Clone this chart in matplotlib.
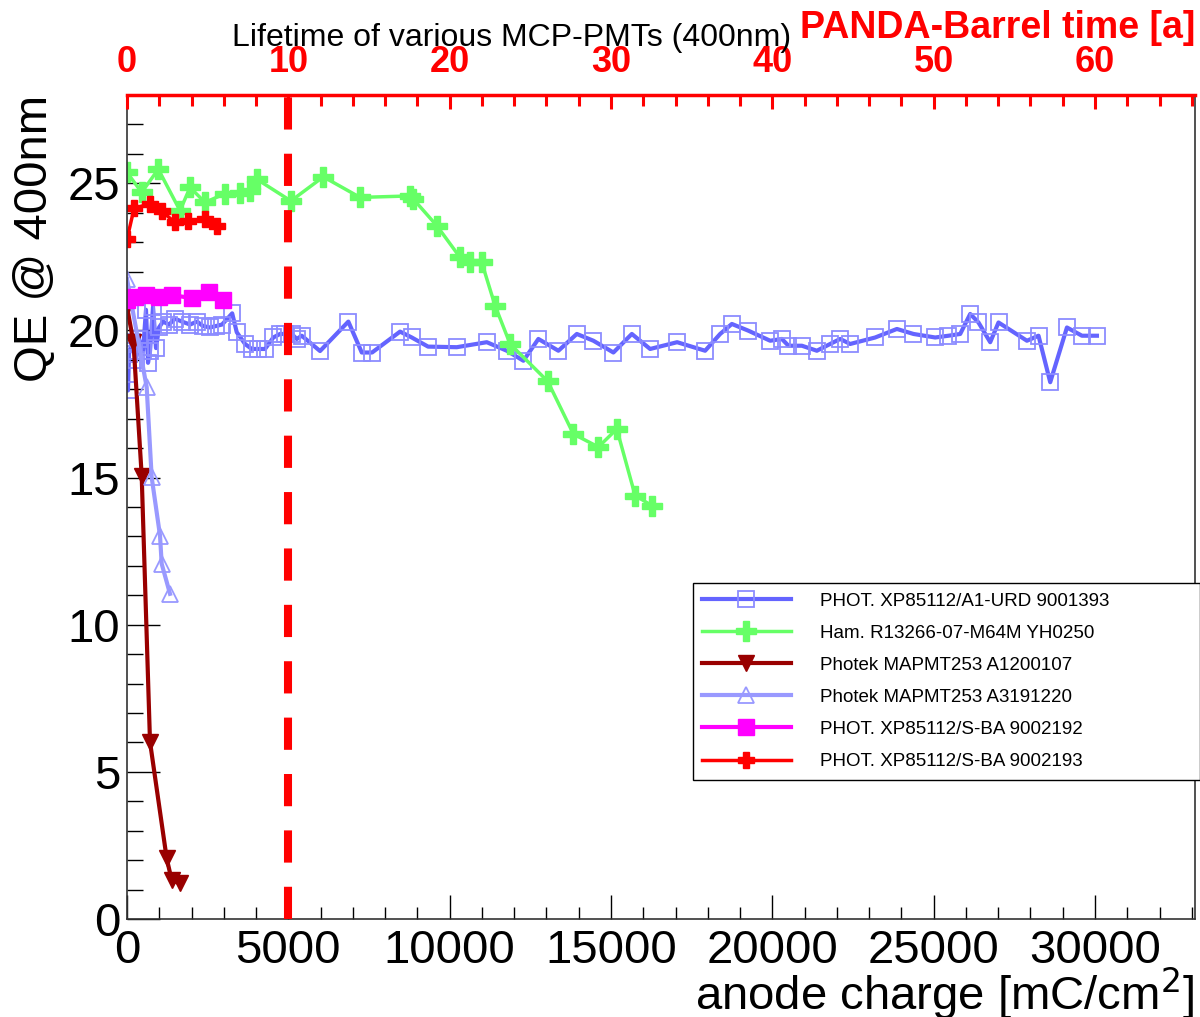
import matplotlib.pyplot as plt
from matplotlib.ticker import MultipleLocator

plt.rcParams["font.family"] = ["Liberation Sans", "DejaVu Sans"]

# anode charge [mC/cm^2] and QE @ 400nm [%]
urd_charge = [0, 30, 62, 155, 279, 372, 496, 589, 651, 713, 806, 899, 992, 1116, 1302,
              1488, 1705, 1953, 2170, 2356, 2573, 2759, 2945, 3260, 3401, 3658, 3866,
              4070, 4278, 4535, 4743, 4898, 5106, 5261, 5416, 5983, 6860, 7276, 7595,
              8463, 8826, 9331, 10221, 11151, 11771, 12285, 12750, 13370, 13941, 14455,
              15075, 15646, 16213, 17050, 17918, 18383, 18746, 19260, 19933, 20296,
              20500, 20916, 21381, 21793, 22103, 22413, 23188, 23861, 24375, 25048,
              25460, 25823, 26133, 26390, 26753, 27010, 27891, 28250, 28613, 29131,
              29596, 30061]
urd_qe = [19.3, 17.96, 19.2, 19.6, 19.0, 19.7, 19.3, 20.7, 18.9, 19.3, 20.8, 19.4, 20.1,
          20.3, 20.2, 20.4, 20.3, 20.2, 20.3, 20.15, 20.1, 20.15, 20.2, 20.58, 19.94,
          19.54, 19.37, 19.37, 19.37, 19.76, 19.88, 19.88, 19.88, 19.71, 19.82, 19.3,
          20.3, 19.25, 19.25, 19.96, 19.76, 19.45, 19.43, 19.6, 19.31, 18.97, 19.71,
          19.31, 19.88, 19.65, 19.25, 19.88, 19.37, 19.6, 19.31, 19.88, 20.22, 19.99,
          19.65, 19.71, 19.48, 19.48, 19.31, 19.54, 19.71, 19.54, 19.76, 20.05, 19.88,
          19.76, 19.82, 19.88, 20.56, 20.27, 19.6, 20.27, 19.65, 19.82, 18.24, 20.1,
          19.82, 19.82]

ham_charge = [0, 455, 970, 1643, 1953, 2418, 3038, 3503, 3813, 4021, 5080, 6085, 7223,
              8773, 8877, 9601, 10323, 10633, 10995, 11408, 11873, 13040, 13835, 14610,
              15180, 15748, 16265]
ham_qe = [25.37, 24.69, 25.48, 24.07, 24.86, 24.35, 24.65, 24.67, 24.75, 25.14, 24.4,
          25.22, 24.52, 24.57, 24.46, 23.56, 22.48, 22.31, 22.31, 20.84, 19.54, 18.27,
          16.48, 16.04, 16.65, 14.39, 14.05]

a120_charge = [0, 200, 455, 713, 1230, 1385, 1643]
a120_qe = [20.8, 19.6, 15.07, 6.02, 2.06, 1.32, 1.21]

a319_charge = [0, 610, 765, 1023, 1075, 1333]
a319_qe = [21.75, 18.07, 15.01, 13.03, 12.07, 11.05]

sba92_charge = [0, 250, 600, 1000, 1400, 2000, 2550, 2970]
sba92_qe = [21.05, 21.15, 21.2, 21.15, 21.2, 21.1, 21.3, 21.03]

sba93_charge = [0, 220, 713, 1075, 1488, 1900, 2418, 2780]
sba93_qe = [23.1, 24.15, 24.3, 24.05, 23.67, 23.72, 23.8, 23.56]

labels = [
    "PHOT. XP85112/A1-URD 9001393",
    "Ham. R13266-07-M64M YH0250",
    "Photek MAPMT253 A1200107",
    "Photek MAPMT253 A3191220",
    "PHOT. XP85112/S-BA 9002192",
    "PHOT. XP85112/S-BA 9002193",
]

X_MAX = 33100
Y_MAX = 28
CHARGE_PER_YEAR = 500
PANDA_LIMIT = 5000

W, H = 1200, 1017
fig = plt.figure(figsize=(W / 100, H / 100), dpi=100)
ax = fig.add_axes([127 / W, 1 - 919 / H, (1195 - 127) / W, (919 - 95) / H])

handles = []
handles += ax.plot(urd_charge, urd_qe, color="#6464ff", lw=3, marker="s", ms=12,
                   mfc="none", mec="#8c8cff", mew=1.3)
handles += ax.plot(ham_charge, ham_qe, color="#66ff66", lw=2.5, marker="P", ms=14,
                   mfc="#66ff66", mec="#66ff66")
handles += ax.plot(a120_charge, a120_qe, color="#990000", lw=3, marker="v", ms=12,
                   mfc="#990000", mec="#990000")
handles += ax.plot(a319_charge, a319_qe, color="#9999ff", lw=3, marker="^", ms=12,
                   mfc="none", mec="#9999ff", mew=1.3)
handles += ax.plot(sba92_charge, sba92_qe, color="#ff00ff", lw=3, marker="s", ms=12,
                   mfc="#ff00ff", mec="#ff00ff")
handles += ax.plot(sba93_charge, sba93_qe, color="#ff0000", lw=2.5, marker="P", ms=11,
                   mfc="#ff0000", mec="#ff0000")

ax.axvline(PANDA_LIMIT, color="#ff0000", lw=5.8, dashes=(4, 3), zorder=5)

ax.set_xlim(0, X_MAX)
ax.set_ylim(0, Y_MAX)
ax.xaxis.set_major_locator(MultipleLocator(5000))
ax.xaxis.set_minor_locator(MultipleLocator(1000))
ax.yaxis.set_major_locator(MultipleLocator(5))
ax.yaxis.set_minor_locator(MultipleLocator(1))
ax.tick_params(axis="x", which="major", direction="in", length=17, width=1, pad=7,
               labelsize=34, top=False)
ax.tick_params(axis="x", which="minor", direction="in", length=8.5, width=1, top=False)
ax.tick_params(axis="y", which="major", direction="in", length=24, width=1, pad=5,
               labelsize=34, right=False)
ax.tick_params(axis="y", which="minor", direction="in", length=11.5, width=1, right=False)
ax.spines["top"].set_visible(False)
for side in ("left", "bottom", "right"):
    ax.spines[side].set_linewidth(1.2)
    ax.spines[side].set_color("#333333")

# PANDA-Barrel time axis on top
ax2 = ax.twiny()
ax2.set_xlim(0, X_MAX / CHARGE_PER_YEAR)
ax2.xaxis.set_major_locator(MultipleLocator(10))
ax2.xaxis.set_minor_locator(MultipleLocator(2))
ax2.tick_params(axis="x", which="major", direction="in", length=10, width=2.2,
                colors="#ff0000", labelsize=26, pad=11)
ax2.tick_params(axis="x", which="minor", direction="in", length=8, width=2.2,
                colors="#ff0000")
for label in ax2.get_xticklabels():
    label.set_fontweight("bold")
for side in ("left", "bottom", "right"):
    ax2.spines[side].set_visible(False)
ax2.spines["top"].set_color("#ff0000")
ax2.spines["top"].set_linewidth(2.5)

fig.text(512 / W, 1 - 38 / H, "Lifetime of various MCP-PMTs (400nm)", ha="center",
         va="center", fontsize=23)
fig.text(1195 / W, 1 - 28 / H, "PANDA-Barrel time [a]", ha="right", va="center",
         fontsize=27, fontweight="bold", color="#ff0000")
fig.text(1194 / W, 1 - 993 / H, "anode charge [mC/cm$^2$]", ha="right", va="center",
         fontsize=34)
fig.text(35 / W, 1 - 95 / H, "QE @ 400nm", ha="center", va="top", rotation=90,
         fontsize=34)

legend = fig.legend(handles, labels, loc="upper left",
                    bbox_to_anchor=(693 / W, 1 - 583 / H, 507 / W, 0), mode="expand",
                    borderaxespad=0, fontsize=13.5, handlelength=4.7, handletextpad=1.6,
                    labelspacing=0.8, borderpad=0.5, fancybox=False, framealpha=1,
                    edgecolor="black")
legend.get_frame().set_linewidth(1.0)

fig.savefig("out.png", dpi=100)
